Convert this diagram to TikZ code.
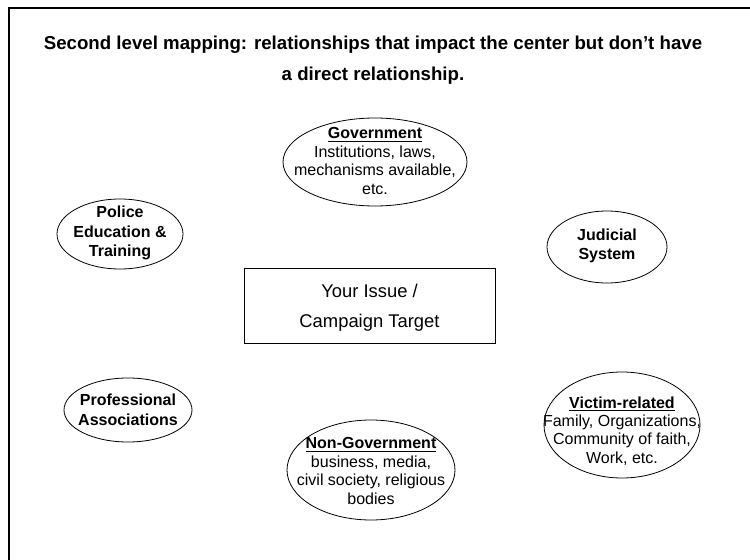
\documentclass[tikz,border=0pt]{standalone}
\usepackage{fontspec}
\setmainfont{Liberation Sans}
\begin{document}
\begin{tikzpicture}[x=0.75pt,y=-0.75pt,
  oval/.style={draw=black, line width=0.6pt},
  bodytxt/.style={align=center, inner sep=0pt, font=\fontsize{12}{13.8}\selectfont},
  boldtxt/.style={align=center, inner sep=0pt, font=\fontsize{12}{14.6}\selectfont\bfseries},
  frameline/.style={draw=black, line width=1.3pt}
]
\useasboundingbox (0,0) rectangle (750,560);
\fill[white] (0,0) rectangle (750,560);
% frame (top and left only)
\coordinate (fr1) at (9,560);
\coordinate (fr2) at (9,8);
\coordinate (fr3) at (750,8);
\draw[frameline] (fr1) -- (fr2) -- (fr3);

% title
\node[align=center, inner sep=0pt, font=\fontsize{14}{23}\selectfont\bfseries] (title) at (373,60)
  {Second level mapping: relationships that impact the center but don’t have\\a direct relationship.};

% ellipses
\draw[oval] (375,162) ellipse [x radius=92, y radius=44];
\node[bodytxt] (gov) at (375,161) {\textbf{\underline{Government}}\\Institutions, laws,\\mechanisms available,\\etc.};

\draw[oval] (120,234) ellipse [x radius=63, y radius=35];
\node[boldtxt] (police) at (120,233) {Police\\Education \&\\Training};

\draw[oval] (607,247) ellipse [x radius=60, y radius=36];
\node[boldtxt] (judicial) at (607,246) {Judicial\\System};

\draw[oval] (128,410) ellipse [x radius=64, y radius=32];
\node[boldtxt] (prof) at (128,410) {Professional\\Associations};

\draw[oval] (371,470) ellipse [x radius=84, y radius=50];
\node[bodytxt] (nongov) at (371,471) {\textbf{\underline{Non-Government}}\\business, media,\\civil society, religious\\bodies};

\draw[oval] (622,425) ellipse [x radius=78, y radius=53];
\node[bodytxt] (victim) at (622,431) {\textbf{\underline{Victim-related}}\\Family, Organizations,\\Community of faith,\\Work, etc.};

% center box
\node[draw=black, line width=0.7pt, minimum width=188.25pt, minimum height=56.25pt, inner sep=0pt] (box) at (369.5,305.5) {};
\node[align=center, inner sep=0pt, font=\fontsize{13.8}{22.5}\selectfont] (boxtxt) at (369.5,308) {Your Issue /\\Campaign Target};
\end{tikzpicture}
\end{document}
